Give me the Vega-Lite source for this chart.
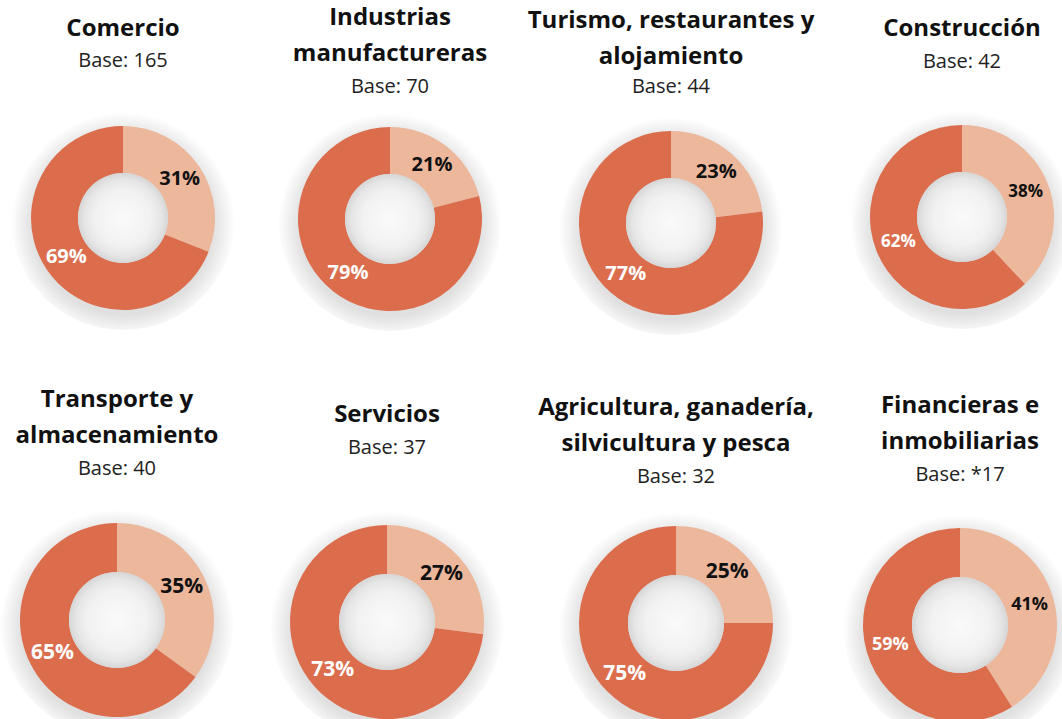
{
  "$schema": "https://vega.github.io/schema/vega-lite/v6.json",
  "background": "white",
  "padding": {"left": 0, "top": 6, "right": 0, "bottom": 0},
  "data": {"values": [
    {"sector": "Comercio", "base": "165", "serie": "Sí", "pct": 0.31},
    {"sector": "Comercio", "base": "165", "serie": "No", "pct": 0.69},
    {"sector": "Industrias manufactureras", "base": "70", "serie": "Sí", "pct": 0.21},
    {"sector": "Industrias manufactureras", "base": "70", "serie": "No", "pct": 0.79},
    {"sector": "Turismo, restaurantes y alojamiento", "base": "44", "serie": "Sí", "pct": 0.23},
    {"sector": "Turismo, restaurantes y alojamiento", "base": "44", "serie": "No", "pct": 0.77},
    {"sector": "Construcción", "base": "42", "serie": "Sí", "pct": 0.38},
    {"sector": "Construcción", "base": "42", "serie": "No", "pct": 0.62},
    {"sector": "Transporte y almacenamiento", "base": "40", "serie": "Sí", "pct": 0.35},
    {"sector": "Transporte y almacenamiento", "base": "40", "serie": "No", "pct": 0.65},
    {"sector": "Servicios", "base": "37", "serie": "Sí", "pct": 0.27},
    {"sector": "Servicios", "base": "37", "serie": "No", "pct": 0.73},
    {"sector": "Agricultura, ganadería, silvicultura y pesca", "base": "32", "serie": "Sí", "pct": 0.25},
    {"sector": "Agricultura, ganadería, silvicultura y pesca", "base": "32", "serie": "No", "pct": 0.75},
    {"sector": "Financieras e inmobiliarias", "base": "*17", "serie": "Sí", "pct": 0.41},
    {"sector": "Financieras e inmobiliarias", "base": "*17", "serie": "No", "pct": 0.59}
  ]},
  "bounds": "flush",
  "spacing": 400,
  "vconcat": [
    {
      "bounds": "flush",
      "spacing": 100,
      "hconcat": [
        {
          "width": 166, "height": 190,
          "title": {"text": "Comercio", "subtitle": "Base: 165", "offset": 35, "subtitlePadding": 10},
          "transform": [{"filter": "datum.sector === 'Comercio'"}],
          "layer": [
            {"transform": [{"filter": "datum.serie === 'Sí'"}], "mark": {"type": "arc", "theta": 0, "theta2": 6.2832, "outerRadius": 112, "fill": {"gradient": "radial", "x1": 0.5, "y1": 0.53, "r1": 0, "x2": 0.5, "y2": 0.53, "r2": 0.5, "stops": [{"offset": 0, "color": "#e0e0e0"}, {"offset": 0.8, "color": "#e0e0e0"}, {"offset": 0.857, "color": "#e8e8e8"}, {"offset": 0.911, "color": "#f1f1f1"}, {"offset": 0.964, "color": "#f9f9f9"}, {"offset": 1, "color": "#ffffff"}]}}, "encoding": {}},
            {"mark": {"type": "arc", "innerRadius": 45, "outerRadius": 92}, "encoding": {"theta": {"field": "pct", "type": "quantitative", "stack": true}, "order": {"field": "serie", "sort": "descending"}, "color": {"field": "serie", "type": "nominal", "scale": {"domain": ["Sí", "No"], "range": ["#ECB79B", "#DB6D4D"]}, "legend": null}}},
            {"transform": [{"filter": "datum.serie === 'Sí'"}], "mark": {"type": "arc", "theta": 0, "theta2": 6.2832, "outerRadius": 45, "fill": {"gradient": "radial", "x1": 0.5, "y1": 0.5, "r1": 0, "x2": 0.5, "y2": 0.5, "r2": 0.5, "stops": [{"offset": 0, "color": "#fafafa"}, {"offset": 0.6, "color": "#f2f2f2"}, {"offset": 0.85, "color": "#e6e6e6"}, {"offset": 1, "color": "#d6d6d6"}]}}, "encoding": {}},
            {"mark": {"type": "text", "radius": 68.5, "fontSize": 20, "fontWeight": "bold"}, "encoding": {"theta": {"field": "pct", "type": "quantitative", "stack": true}, "order": {"field": "serie", "sort": "descending"}, "text": {"field": "pct", "type": "quantitative", "format": ".0%"}, "color": {"condition": {"test": "datum.serie === 'Sí'", "value": "#111111"}, "value": "#ffffff"}}}
          ]
        },
        {
          "width": 168, "height": 192,
          "title": {"text": ["Industrias", "manufactureras"], "subtitle": "Base: 70", "offset": 10},
          "transform": [{"filter": "datum.sector === 'Industrias manufactureras'"}],
          "layer": [
            {"transform": [{"filter": "datum.serie === 'Sí'"}], "mark": {"type": "arc", "theta": 0, "theta2": 6.2832, "outerRadius": 112, "fill": {"gradient": "radial", "x1": 0.5, "y1": 0.53, "r1": 0, "x2": 0.5, "y2": 0.53, "r2": 0.5, "stops": [{"offset": 0, "color": "#e0e0e0"}, {"offset": 0.8, "color": "#e0e0e0"}, {"offset": 0.857, "color": "#e8e8e8"}, {"offset": 0.911, "color": "#f1f1f1"}, {"offset": 0.964, "color": "#f9f9f9"}, {"offset": 1, "color": "#ffffff"}]}}, "encoding": {}},
            {"mark": {"type": "arc", "innerRadius": 45, "outerRadius": 92}, "encoding": {"theta": {"field": "pct", "type": "quantitative", "stack": true}, "order": {"field": "serie", "sort": "descending"}, "color": {"field": "serie", "type": "nominal", "scale": {"domain": ["Sí", "No"], "range": ["#ECB79B", "#DB6D4D"]}, "legend": null}}},
            {"transform": [{"filter": "datum.serie === 'Sí'"}], "mark": {"type": "arc", "theta": 0, "theta2": 6.2832, "outerRadius": 45, "fill": {"gradient": "radial", "x1": 0.5, "y1": 0.5, "r1": 0, "x2": 0.5, "y2": 0.5, "r2": 0.5, "stops": [{"offset": 0, "color": "#fafafa"}, {"offset": 0.6, "color": "#f2f2f2"}, {"offset": 0.85, "color": "#e6e6e6"}, {"offset": 1, "color": "#d6d6d6"}]}}, "encoding": {}},
            {"mark": {"type": "text", "radius": 68.5, "fontSize": 20, "fontWeight": "bold"}, "encoding": {"theta": {"field": "pct", "type": "quantitative", "stack": true}, "order": {"field": "serie", "sort": "descending"}, "text": {"field": "pct", "type": "quantitative", "format": ".0%"}, "color": {"condition": {"test": "datum.serie === 'Sí'", "value": "#111111"}, "value": "#ffffff"}}}
          ]
        },
        {
          "width": 194, "height": 200,
          "title": {"text": ["Turismo, restaurantes y", "alojamiento"], "subtitle": "Base: 44", "offset": 14, "subtitlePadding": 8},
          "transform": [{"filter": "datum.sector === 'Turismo, restaurantes y alojamiento'"}],
          "layer": [
            {"transform": [{"filter": "datum.serie === 'Sí'"}], "mark": {"type": "arc", "theta": 0, "theta2": 6.2832, "outerRadius": 112, "fill": {"gradient": "radial", "x1": 0.5, "y1": 0.53, "r1": 0, "x2": 0.5, "y2": 0.53, "r2": 0.5, "stops": [{"offset": 0, "color": "#e0e0e0"}, {"offset": 0.8, "color": "#e0e0e0"}, {"offset": 0.857, "color": "#e8e8e8"}, {"offset": 0.911, "color": "#f1f1f1"}, {"offset": 0.964, "color": "#f9f9f9"}, {"offset": 1, "color": "#ffffff"}]}}, "encoding": {}},
            {"mark": {"type": "arc", "innerRadius": 45, "outerRadius": 92}, "encoding": {"theta": {"field": "pct", "type": "quantitative", "stack": true}, "order": {"field": "serie", "sort": "descending"}, "color": {"field": "serie", "type": "nominal", "scale": {"domain": ["Sí", "No"], "range": ["#ECB79B", "#DB6D4D"]}, "legend": null}}},
            {"transform": [{"filter": "datum.serie === 'Sí'"}], "mark": {"type": "arc", "theta": 0, "theta2": 6.2832, "outerRadius": 45, "fill": {"gradient": "radial", "x1": 0.5, "y1": 0.5, "r1": 0, "x2": 0.5, "y2": 0.5, "r2": 0.5, "stops": [{"offset": 0, "color": "#fafafa"}, {"offset": 0.6, "color": "#f2f2f2"}, {"offset": 0.85, "color": "#e6e6e6"}, {"offset": 1, "color": "#d6d6d6"}]}}, "encoding": {}},
            {"mark": {"type": "text", "radius": 68.5, "fontSize": 20, "fontWeight": "bold"}, "encoding": {"theta": {"field": "pct", "type": "quantitative", "stack": true}, "order": {"field": "serie", "sort": "descending"}, "text": {"field": "pct", "type": "quantitative", "format": ".0%"}, "color": {"condition": {"test": "datum.serie === 'Sí'", "value": "#111111"}, "value": "#ffffff"}}}
          ]
        },
        {
          "width": 188, "height": 188,
          "title": {"text": "Construcción", "subtitle": "Base: 42", "offset": 33},
          "transform": [{"filter": "datum.sector === 'Construcción'"}],
          "layer": [
            {"transform": [{"filter": "datum.serie === 'Sí'"}], "mark": {"type": "arc", "theta": 0, "theta2": 6.2832, "outerRadius": 112, "fill": {"gradient": "radial", "x1": 0.5, "y1": 0.53, "r1": 0, "x2": 0.5, "y2": 0.53, "r2": 0.5, "stops": [{"offset": 0, "color": "#e0e0e0"}, {"offset": 0.8, "color": "#e0e0e0"}, {"offset": 0.857, "color": "#e8e8e8"}, {"offset": 0.911, "color": "#f1f1f1"}, {"offset": 0.964, "color": "#f9f9f9"}, {"offset": 1, "color": "#ffffff"}]}}, "encoding": {}},
            {"mark": {"type": "arc", "innerRadius": 45, "outerRadius": 92}, "encoding": {"theta": {"field": "pct", "type": "quantitative", "stack": true}, "order": {"field": "serie", "sort": "descending"}, "color": {"field": "serie", "type": "nominal", "scale": {"domain": ["Sí", "No"], "range": ["#ECB79B", "#DB6D4D"]}, "legend": null}}},
            {"transform": [{"filter": "datum.serie === 'Sí'"}], "mark": {"type": "arc", "theta": 0, "theta2": 6.2832, "outerRadius": 45, "fill": {"gradient": "radial", "x1": 0.5, "y1": 0.5, "r1": 0, "x2": 0.5, "y2": 0.5, "r2": 0.5, "stops": [{"offset": 0, "color": "#fafafa"}, {"offset": 0.6, "color": "#f2f2f2"}, {"offset": 0.85, "color": "#e6e6e6"}, {"offset": 1, "color": "#d6d6d6"}]}}, "encoding": {}},
            {"mark": {"type": "text", "radius": 68.5, "fontSize": 17, "fontWeight": "bold"}, "encoding": {"theta": {"field": "pct", "type": "quantitative", "stack": true}, "order": {"field": "serie", "sort": "descending"}, "text": {"field": "pct", "type": "quantitative", "format": ".0%"}, "color": {"condition": {"test": "datum.serie === 'Sí'", "value": "#111111"}, "value": "#ffffff"}}}
          ]
        }
      ]
    },
    {
      "bounds": "flush",
      "spacing": 100,
      "hconcat": [
        {
          "width": 154, "height": 194,
          "title": {"text": ["Transporte y", "almacenamiento"], "subtitle": "Base: 40", "offset": 24},
          "transform": [{"filter": "datum.sector === 'Transporte y almacenamiento'"}],
          "layer": [
            {"transform": [{"filter": "datum.serie === 'Sí'"}], "mark": {"type": "arc", "theta": 0, "theta2": 6.2832, "outerRadius": 117, "fill": {"gradient": "radial", "x1": 0.5, "y1": 0.53, "r1": 0, "x2": 0.5, "y2": 0.53, "r2": 0.5, "stops": [{"offset": 0, "color": "#e0e0e0"}, {"offset": 0.81, "color": "#e0e0e0"}, {"offset": 0.863, "color": "#e8e8e8"}, {"offset": 0.915, "color": "#f1f1f1"}, {"offset": 0.966, "color": "#f9f9f9"}, {"offset": 1, "color": "#ffffff"}]}}, "encoding": {}},
            {"mark": {"type": "arc", "innerRadius": 48, "outerRadius": 97}, "encoding": {"theta": {"field": "pct", "type": "quantitative", "stack": true}, "order": {"field": "serie", "sort": "descending"}, "color": {"field": "serie", "type": "nominal", "scale": {"domain": ["Sí", "No"], "range": ["#ECB79B", "#DB6D4D"]}, "legend": null}}},
            {"transform": [{"filter": "datum.serie === 'Sí'"}], "mark": {"type": "arc", "theta": 0, "theta2": 6.2832, "outerRadius": 48, "fill": {"gradient": "radial", "x1": 0.5, "y1": 0.5, "r1": 0, "x2": 0.5, "y2": 0.5, "r2": 0.5, "stops": [{"offset": 0, "color": "#fafafa"}, {"offset": 0.6, "color": "#f2f2f2"}, {"offset": 0.85, "color": "#e6e6e6"}, {"offset": 1, "color": "#d6d6d6"}]}}, "encoding": {}},
            {"mark": {"type": "text", "radius": 72.5, "fontSize": 21, "fontWeight": "bold"}, "encoding": {"theta": {"field": "pct", "type": "quantitative", "stack": true}, "order": {"field": "serie", "sort": "descending"}, "text": {"field": "pct", "type": "quantitative", "format": ".0%"}, "color": {"condition": {"test": "datum.serie === 'Sí'", "value": "#111111"}, "value": "#ffffff"}}}
          ]
        },
        {
          "width": 186, "height": 198,
          "title": {"text": "Servicios", "subtitle": "Base: 37", "offset": 47},
          "transform": [{"filter": "datum.sector === 'Servicios'"}],
          "layer": [
            {"transform": [{"filter": "datum.serie === 'Sí'"}], "mark": {"type": "arc", "theta": 0, "theta2": 6.2832, "outerRadius": 117, "fill": {"gradient": "radial", "x1": 0.5, "y1": 0.53, "r1": 0, "x2": 0.5, "y2": 0.53, "r2": 0.5, "stops": [{"offset": 0, "color": "#e0e0e0"}, {"offset": 0.81, "color": "#e0e0e0"}, {"offset": 0.863, "color": "#e8e8e8"}, {"offset": 0.915, "color": "#f1f1f1"}, {"offset": 0.966, "color": "#f9f9f9"}, {"offset": 1, "color": "#ffffff"}]}}, "encoding": {}},
            {"mark": {"type": "arc", "innerRadius": 48, "outerRadius": 97}, "encoding": {"theta": {"field": "pct", "type": "quantitative", "stack": true}, "order": {"field": "serie", "sort": "descending"}, "color": {"field": "serie", "type": "nominal", "scale": {"domain": ["Sí", "No"], "range": ["#ECB79B", "#DB6D4D"]}, "legend": null}}},
            {"transform": [{"filter": "datum.serie === 'Sí'"}], "mark": {"type": "arc", "theta": 0, "theta2": 6.2832, "outerRadius": 48, "fill": {"gradient": "radial", "x1": 0.5, "y1": 0.5, "r1": 0, "x2": 0.5, "y2": 0.5, "r2": 0.5, "stops": [{"offset": 0, "color": "#fafafa"}, {"offset": 0.6, "color": "#f2f2f2"}, {"offset": 0.85, "color": "#e6e6e6"}, {"offset": 1, "color": "#d6d6d6"}]}}, "encoding": {}},
            {"mark": {"type": "text", "radius": 72.5, "fontSize": 21, "fontWeight": "bold"}, "encoding": {"theta": {"field": "pct", "type": "quantitative", "stack": true}, "order": {"field": "serie", "sort": "descending"}, "text": {"field": "pct", "type": "quantitative", "format": ".0%"}, "color": {"condition": {"test": "datum.serie === 'Sí'", "value": "#111111"}, "value": "#ffffff"}}}
          ]
        },
        {
          "width": 192, "height": 200,
          "title": {"text": ["Agricultura, ganadería,", "silvicultura y pesca"], "subtitle": "Base: 32", "offset": 19},
          "transform": [{"filter": "datum.sector === 'Agricultura, ganadería, silvicultura y pesca'"}],
          "layer": [
            {"transform": [{"filter": "datum.serie === 'Sí'"}], "mark": {"type": "arc", "theta": 0, "theta2": 6.2832, "outerRadius": 117, "fill": {"gradient": "radial", "x1": 0.5, "y1": 0.53, "r1": 0, "x2": 0.5, "y2": 0.53, "r2": 0.5, "stops": [{"offset": 0, "color": "#e0e0e0"}, {"offset": 0.81, "color": "#e0e0e0"}, {"offset": 0.863, "color": "#e8e8e8"}, {"offset": 0.915, "color": "#f1f1f1"}, {"offset": 0.966, "color": "#f9f9f9"}, {"offset": 1, "color": "#ffffff"}]}}, "encoding": {}},
            {"mark": {"type": "arc", "innerRadius": 48, "outerRadius": 97}, "encoding": {"theta": {"field": "pct", "type": "quantitative", "stack": true}, "order": {"field": "serie", "sort": "descending"}, "color": {"field": "serie", "type": "nominal", "scale": {"domain": ["Sí", "No"], "range": ["#ECB79B", "#DB6D4D"]}, "legend": null}}},
            {"transform": [{"filter": "datum.serie === 'Sí'"}], "mark": {"type": "arc", "theta": 0, "theta2": 6.2832, "outerRadius": 48, "fill": {"gradient": "radial", "x1": 0.5, "y1": 0.5, "r1": 0, "x2": 0.5, "y2": 0.5, "r2": 0.5, "stops": [{"offset": 0, "color": "#fafafa"}, {"offset": 0.6, "color": "#f2f2f2"}, {"offset": 0.85, "color": "#e6e6e6"}, {"offset": 1, "color": "#d6d6d6"}]}}, "encoding": {}},
            {"mark": {"type": "text", "radius": 72.5, "fontSize": 21, "fontWeight": "bold"}, "encoding": {"theta": {"field": "pct", "type": "quantitative", "stack": true}, "order": {"field": "serie", "sort": "descending"}, "text": {"field": "pct", "type": "quantitative", "format": ".0%"}, "color": {"condition": {"test": "datum.serie === 'Sí'", "value": "#111111"}, "value": "#ffffff"}}}
          ]
        },
        {
          "width": 176, "height": 204,
          "title": {"text": ["Financieras e", "inmobiliarias"], "subtitle": "Base: *17", "offset": 23},
          "transform": [{"filter": "datum.sector === 'Financieras e inmobiliarias'"}],
          "layer": [
            {"transform": [{"filter": "datum.serie === 'Sí'"}], "mark": {"type": "arc", "theta": 0, "theta2": 6.2832, "outerRadius": 117, "fill": {"gradient": "radial", "x1": 0.5, "y1": 0.53, "r1": 0, "x2": 0.5, "y2": 0.53, "r2": 0.5, "stops": [{"offset": 0, "color": "#e0e0e0"}, {"offset": 0.81, "color": "#e0e0e0"}, {"offset": 0.863, "color": "#e8e8e8"}, {"offset": 0.915, "color": "#f1f1f1"}, {"offset": 0.966, "color": "#f9f9f9"}, {"offset": 1, "color": "#ffffff"}]}}, "encoding": {}},
            {"mark": {"type": "arc", "innerRadius": 48, "outerRadius": 97}, "encoding": {"theta": {"field": "pct", "type": "quantitative", "stack": true}, "order": {"field": "serie", "sort": "descending"}, "color": {"field": "serie", "type": "nominal", "scale": {"domain": ["Sí", "No"], "range": ["#ECB79B", "#DB6D4D"]}, "legend": null}}},
            {"transform": [{"filter": "datum.serie === 'Sí'"}], "mark": {"type": "arc", "theta": 0, "theta2": 6.2832, "outerRadius": 48, "fill": {"gradient": "radial", "x1": 0.5, "y1": 0.5, "r1": 0, "x2": 0.5, "y2": 0.5, "r2": 0.5, "stops": [{"offset": 0, "color": "#fafafa"}, {"offset": 0.6, "color": "#f2f2f2"}, {"offset": 0.85, "color": "#e6e6e6"}, {"offset": 1, "color": "#d6d6d6"}]}}, "encoding": {}},
            {"mark": {"type": "text", "radius": 72.5, "fontSize": 18, "fontWeight": "bold"}, "encoding": {"theta": {"field": "pct", "type": "quantitative", "stack": true}, "order": {"field": "serie", "sort": "descending"}, "text": {"field": "pct", "type": "quantitative", "format": ".0%"}, "color": {"condition": {"test": "datum.serie === 'Sí'", "value": "#111111"}, "value": "#ffffff"}}}
          ]
        }
      ]
    }
  ],
  "config": {
    "view": {"stroke": null},
    "font": "Open Sans",
    "text": {"font": "Open Sans"},
    "title": {"font": "Open Sans", "fontSize": 24, "fontWeight": "bold", "color": "#111111", "lineHeight": 36, "subtitleFont": "Open Sans", "subtitleFontSize": 20, "subtitleColor": "#222222", "subtitlePadding": 11, "anchor": "middle", "frame": "group"}
  }
}
